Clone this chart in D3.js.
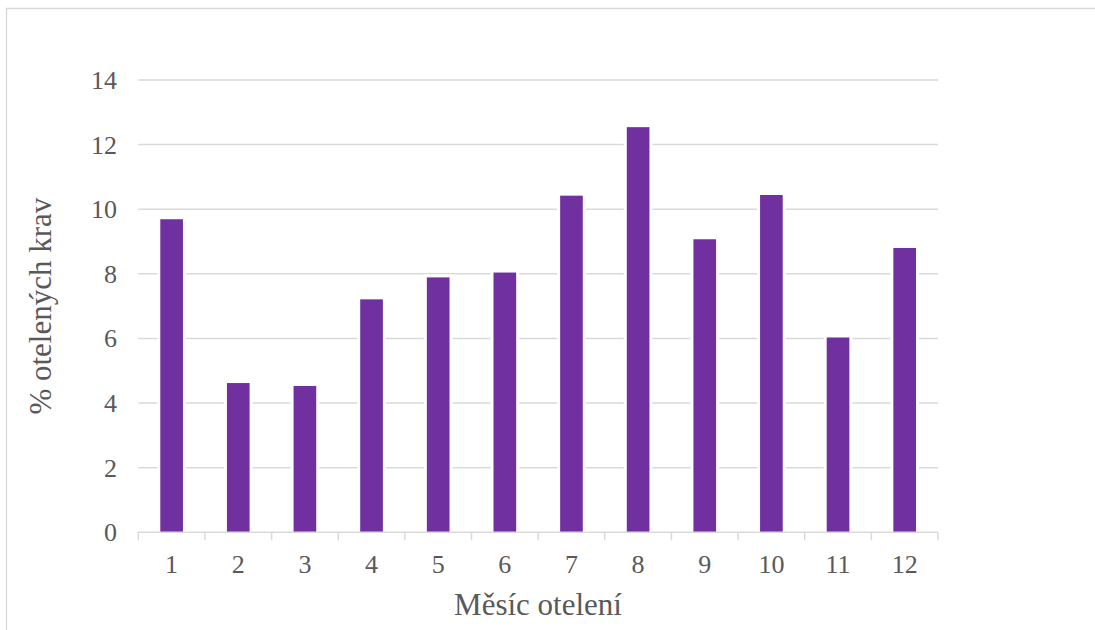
<!DOCTYPE html>
<html>
<head>
<meta charset="utf-8">
<script src="https://cdn.jsdelivr.net/npm/d3@7"></script>
<style>
  html, body { margin: 0; padding: 0; background: #fff; }
  svg { display: block; }
</style>
</head>
<body>
<svg id="chart" width="1095" height="630"></svg>
<script>
const categories = ["1","2","3","4","5","6","7","8","9","10","11","12"];
const values = [9.69, 4.62, 4.53, 7.21, 7.89, 8.04, 10.42, 12.54, 9.07, 10.44, 6.03, 8.80];
const yTicks = [0, 2, 4, 6, 8, 10, 12, 14];
const xTitle = "Měsíc otelení";
const yTitle = "% otelených krav";

const FONT = "'Liberation Serif'";
const TXT = "#595959";

const svg = d3.select("#chart");
const W = 1095, H = 630;
const plot = { left: 138.3, right: 938, top: 80, bottom: 532.3 };

// outer frame (top and left visible)
svg.append("path")
  .attr("d", `M6.5,${H} L6.5,8.5 L${W},8.5`)
  .attr("fill", "none").attr("stroke", "#d9d9d9").attr("stroke-width", 1.3);

const x = d3.scaleBand().domain(categories).range([plot.left, plot.right])
  .paddingInner(0.66).paddingOuter(0.33);
const y = d3.scaleLinear().domain([0, 14]).range([plot.bottom, plot.top]);

// gridlines
svg.append("g").selectAll("line").data(yTicks.filter(d => d > 0)).join("line")
  .attr("x1", plot.left).attr("x2", plot.right)
  .attr("y1", d => y(d)).attr("y2", d => y(d))
  .attr("stroke", "#d9d9d9").attr("stroke-width", 1.5);

// bars
svg.append("g").selectAll("rect").data(values).join("rect")
  .attr("x", (d, i) => x(categories[i]))
  .attr("y", d => y(d))
  .attr("width", x.bandwidth())
  .attr("height", d => y(0) - y(d))
  .attr("fill", "#7030A0")
  .attr("stroke", "#ffffff").attr("stroke-width", 6)
  .style("paint-order", "stroke");

// x axis
const gx = svg.append("g").attr("transform", `translate(0,${plot.bottom})`);
gx.append("line").attr("x1", plot.left).attr("x2", plot.right)
  .attr("stroke", "#d9d9d9").attr("stroke-width", 1.5);
const bounds = d3.range(categories.length + 1).map(i => plot.left + i * x.step());
gx.selectAll("line.tk").data(bounds).join("line").attr("class", "tk")
  .attr("x1", d => d).attr("x2", d => d).attr("y1", 0).attr("y2", 8)
  .attr("stroke", "#d9d9d9").attr("stroke-width", 1.5);
gx.selectAll("text.lbl").data(categories).join("text").attr("class", "lbl")
  .attr("x", d => x(d) + x.bandwidth() / 2)
  .attr("y", 41)
  .attr("text-anchor", "middle")
  .style("font-family", FONT).attr("fill", TXT)
  .attr("font-size", 26)
  .text(d => d);

// y axis labels
svg.append("g").selectAll("text").data(yTicks).join("text")
  .attr("x", 117)
  .attr("y", d => y(d) + 9)
  .attr("text-anchor", "end")
  .style("font-family", FONT).attr("fill", TXT)
  .attr("font-size", 26)
  .text(d => d);

// titles
svg.append("text")
  .attr("x", 538)
  .attr("y", 615)
  .attr("text-anchor", "middle")
  .style("font-family", FONT).attr("fill", TXT)
  .attr("font-size", 31)
  .text(xTitle);

svg.append("text")
  .attr("transform", `translate(51,${(plot.top + plot.bottom) / 2}) rotate(-90)`)
  .attr("text-anchor", "middle")
  .style("font-family", FONT).attr("fill", TXT)
  .attr("font-size", 31)
  .text(yTitle);
</script>
</body>
</html>
